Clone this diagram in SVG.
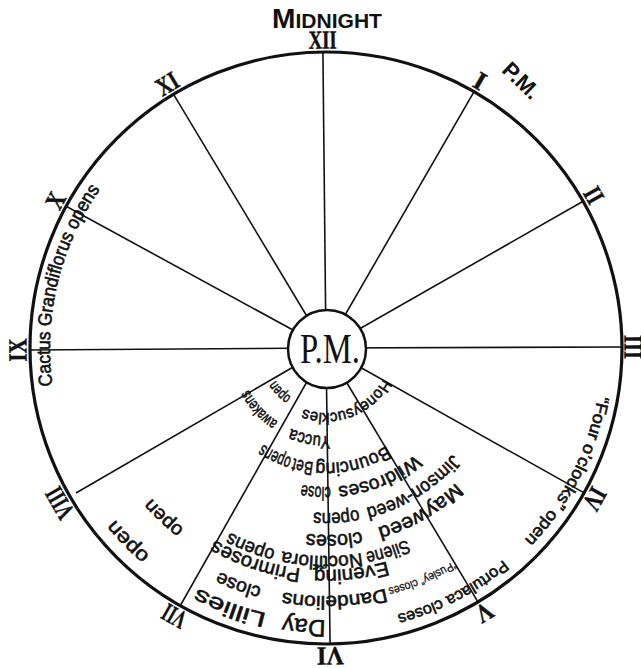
<svg xmlns="http://www.w3.org/2000/svg" width="641" height="668" viewBox="0 0 641 668">
<style>
.lbl{font-family:"Liberation Sans Narrow","Liberation Sans",sans-serif;fill:#111;stroke:#111;stroke-width:0.6;}
.num{font-family:"Liberation Serif",serif;font-weight:bold;font-size:26px;fill:#111;stroke:#111;stroke-width:0.5;text-anchor:middle;}
.spoke{stroke:#111;stroke-width:1.6;fill:none;}
</style>
<defs>
<path id="r60" d="M326,288 A60,60 0 1,1 326,408 A60,60 0 1,1 326,288"/>
<path id="r65" d="M326,283 A65,65 0 1,1 326,413 A65,65 0 1,1 326,283"/>
<path id="r88" d="M326,260 A88,88 0 1,1 326,436 A88,88 0 1,1 326,260"/>
<path id="r115" d="M326,233 A115,115 0 1,1 326,463 A115,115 0 1,1 326,233"/>
<path id="r139" d="M326,209 A139,139 0 1,1 326,487 A139,139 0 1,1 326,209"/>
<path id="r165" d="M326,183 A165,165 0 1,1 326,513 A165,165 0 1,1 326,183"/>
<path id="r187" d="M326,161 A187,187 0 1,1 326,535 A187,187 0 1,1 326,161"/>
<path id="r208" d="M326,140 A208,208 0 1,1 326,556 A208,208 0 1,1 326,140"/>
<path id="r222" d="M326,126 A222,222 0 1,1 326,570 A222,222 0 1,1 326,126"/>
<path id="r230" d="M326,118 A230,230 0 1,1 326,578 A230,230 0 1,1 326,118"/>
<path id="r248" d="M326,100 A248,248 0 1,1 326,596 A248,248 0 1,1 326,100"/>
<path id="r272" d="M326,76 A272,272 0 1,1 326,620 A272,272 0 1,1 326,76"/>
<path id="r276" d="M326,72 A276,276 0 1,1 326,624 A276,276 0 1,1 326,72"/>
</defs>
<rect width="641" height="668" fill="#fff"/>

<g id="connectors">
<circle cx="326" cy="348" r="296" fill="none" stroke="#111" stroke-width="3.2"/>
<line class="spoke" x1="326" y1="348" x2="322.9" y2="51"/>
<line class="spoke" x1="326" y1="348" x2="474.5" y2="90.8"/>
<line class="spoke" x1="326" y1="348" x2="584" y2="200.8"/>
<line class="spoke" x1="326" y1="348" x2="623" y2="347"/>
<line class="spoke" x1="326" y1="348" x2="585" y2="493.4"/>
<line class="spoke" x1="326" y1="348" x2="478.5" y2="602.9"/>
<line class="spoke" x1="326" y1="348" x2="330.1" y2="645"/>
<line class="spoke" x1="326" y1="348" x2="179.8" y2="606.5"/>
<line class="spoke" x1="326" y1="348" x2="76" y2="493"/>
<line class="spoke" x1="326" y1="348" x2="29" y2="350"/>
<line class="spoke" x1="326" y1="348" x2="65.2" y2="205.8"/>
<line class="spoke" x1="326" y1="348" x2="173" y2="93.4"/>
</g>

<g id="hub">
<circle cx="327" cy="349" r="39" fill="#fff" stroke="#111" stroke-width="2.5"/>
<text x="330" y="363" font-family="Liberation Serif,serif" font-size="42" text-anchor="middle" textLength="60" lengthAdjust="spacingAndGlyphs" fill="#111">P.M.</text>
</g>

<g id="numerals">
<text class="num" x="326" y="48.5" textLength="28" lengthAdjust="spacingAndGlyphs" transform="rotate(-0.6 326 348)">XII</text>
<text class="num" x="326" y="48.5" transform="rotate(30 326 348)">I</text>
<text class="num" x="326" y="48.5" textLength="15" lengthAdjust="spacingAndGlyphs" transform="rotate(60.3 326 348)">II</text>
<text class="num" x="326" y="49.5" textLength="24" lengthAdjust="spacingAndGlyphs" transform="rotate(89.8 326 348)">III</text>
<text class="num" x="326" y="48.5" textLength="22" lengthAdjust="spacingAndGlyphs" transform="rotate(119.3 326 348)">IV</text>
<text class="num" x="326" y="48.5" textLength="16" lengthAdjust="spacingAndGlyphs" transform="rotate(149.1 326 348)">V</text>
<text class="num" x="326" y="48.5" textLength="27" lengthAdjust="spacingAndGlyphs" transform="rotate(179.2 326 348)">VI</text>
<text class="num" x="326" y="48.5" textLength="24" lengthAdjust="spacingAndGlyphs" transform="rotate(209.5 326 348)">VII</text>
<text class="num" x="326" y="48.5" textLength="32" lengthAdjust="spacingAndGlyphs" transform="rotate(239.8 326 348)">VIII</text>
<text class="num" x="326" y="48.5" textLength="23" lengthAdjust="spacingAndGlyphs" transform="rotate(269.6 326 348)">IX</text>
<text class="num" x="326" y="48.5" textLength="15" lengthAdjust="spacingAndGlyphs" transform="rotate(298.6 326 348)">X</text>
<text class="num" x="326" y="48.5" textLength="22" lengthAdjust="spacingAndGlyphs" transform="rotate(329 326 348)">XI</text>
</g>

<g id="midnight">
<text x="327" y="28" font-family="Liberation Sans,sans-serif" font-weight="bold" font-size="21" text-anchor="middle" textLength="110" lengthAdjust="spacingAndGlyphs" fill="#111"><tspan font-size="28">M</tspan>IDNIGHT</text>
</g>
<g id="pm-label">
<text x="516" y="86" font-family="Liberation Sans,sans-serif" font-weight="bold" font-size="22" text-anchor="middle" fill="#111" transform="rotate(44 516 86)">P.M.</text>
</g>

<g id="honeysuckles">
<text class="lbl" font-size="16"><textPath href="#r65" startOffset="133.9" textLength="93" lengthAdjust="spacingAndGlyphs">Honeysuckles</textPath></text>
<text class="lbl" font-size="15"><textPath href="#r60" startOffset="225.1" textLength="23" lengthAdjust="spacingAndGlyphs">open</textPath></text>
</g>
<g id="yucca">
<text class="lbl" font-size="18"><textPath href="#r88" startOffset="271.8" textLength="40" lengthAdjust="spacingAndGlyphs">Yucca</textPath></text>
<text class="lbl" font-size="16"><textPath href="#r88" startOffset="326.7" textLength="44" lengthAdjust="spacingAndGlyphs">awakens</textPath></text>
</g>
<g id="bouncing-bet">
<text class="lbl" font-size="19"><textPath href="#r115" startOffset="297.1" textLength="74.3" lengthAdjust="spacingAndGlyphs">Bouncing</textPath></text>
<text class="lbl" font-size="19"><textPath href="#r115" startOffset="373.3" textLength="20.1" lengthAdjust="spacingAndGlyphs">Bet</textPath></text>
<text class="lbl" font-size="19"><textPath href="#r115" startOffset="395.4" textLength="32.1" lengthAdjust="spacingAndGlyphs">opens</textPath></text>
</g>
<g id="wildroses">
<text class="lbl" font-size="19"><textPath href="#r139" startOffset="339.6" textLength="84.9" lengthAdjust="spacingAndGlyphs">Wildroses</textPath></text>
<text class="lbl" font-size="19"><textPath href="#r139" startOffset="431.8" textLength="29.1" lengthAdjust="spacingAndGlyphs">close</textPath></text>
</g>
<g id="jimson-weed">
<text class="lbl" font-size="19"><textPath href="#r165" startOffset="374.4" textLength="103.7" lengthAdjust="spacingAndGlyphs">Jimson-weed</textPath></text>
<text class="lbl" font-size="19"><textPath href="#r165" startOffset="485.5" textLength="45.5" lengthAdjust="spacingAndGlyphs">opens</textPath></text>
</g>
<g id="mayweed">
<text class="lbl" font-size="20"><textPath href="#r187" startOffset="443.9" textLength="91.4" lengthAdjust="spacingAndGlyphs">Mayweed</textPath></text>
<text class="lbl" font-size="20"><textPath href="#r187" startOffset="551.6" textLength="55.5" lengthAdjust="spacingAndGlyphs">closes</textPath></text>
</g>
<g id="silene">
<text class="lbl" font-size="19"><textPath href="#r208" startOffset="570" textLength="43.6" lengthAdjust="spacingAndGlyphs">Silene</textPath></text>
<text class="lbl" font-size="19"><textPath href="#r208" startOffset="617.2" textLength="79.9" lengthAdjust="spacingAndGlyphs">Noctiflora</textPath></text>
<text class="lbl" font-size="19"><textPath href="#r208" startOffset="704.3" textLength="49" lengthAdjust="spacingAndGlyphs">opens</textPath></text>
</g>
<g id="evening-primroses">
<text class="lbl" font-size="20"><textPath href="#r222" startOffset="635.4" textLength="73.6" lengthAdjust="spacingAndGlyphs">Evening</textPath></text>
<text class="lbl" font-size="20"><textPath href="#r222" startOffset="722.6" textLength="91.1" lengthAdjust="spacingAndGlyphs">Primroses</textPath></text>
<text class="lbl" font-size="19"><textPath href="#r230" startOffset="875.1" textLength="45" lengthAdjust="spacingAndGlyphs">open</textPath></text>
</g>
<g id="dandelions">
<text class="lbl" font-size="19"><textPath href="#r248" startOffset="718.5" textLength="103.9" lengthAdjust="spacingAndGlyphs">Dandelions</textPath></text>
<text class="lbl" font-size="19"><textPath href="#r248" startOffset="844" textLength="45.5" lengthAdjust="spacingAndGlyphs">close</textPath></text>
</g>
<g id="day-lillies">
<text class="lbl" font-size="24"><textPath href="#r272" startOffset="854.5" textLength="42.7" lengthAdjust="spacingAndGlyphs">Day</textPath></text>
<text class="lbl" font-size="21"><textPath href="#r272" startOffset="913.9" textLength="73.6" lengthAdjust="spacingAndGlyphs">Lillies</textPath></text>
<text class="lbl" font-size="20"><textPath href="#r272" startOffset="1045.8" textLength="50" lengthAdjust="spacingAndGlyphs">open</textPath></text>
</g>
<g id="pusley">
<text class="lbl" font-size="12" style="stroke-width:0.3"><textPath href="#r248" startOffset="644.9" textLength="71.4" lengthAdjust="spacingAndGlyphs">“Pusley” closes</textPath></text>
</g>
<g id="portulaca">
<text class="lbl" font-size="16"><textPath href="#r276" startOffset="674.4" textLength="120.4" lengthAdjust="spacingAndGlyphs">Portulaca closes</textPath></text>
</g>
<g id="four-oclocks">
<text class="lbl" font-size="17"><textPath href="#r276" startOffset="481.7" textLength="163.8" lengthAdjust="spacingAndGlyphs">“Four o’clocks” open</textPath></text>
</g>
<g id="cactus">
<text class="lbl" font-size="19"><textPath href="#r276" startOffset="1262.1" textLength="207.1" lengthAdjust="spacingAndGlyphs">Cactus Grandiflorus opens</textPath></text>
</g>
</svg>
